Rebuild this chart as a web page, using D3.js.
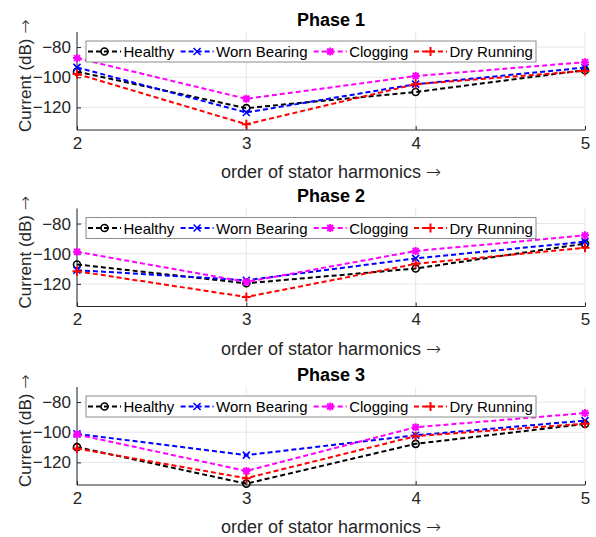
<!DOCTYPE html>
<html lang="en">
<head>
  <meta charset="UTF-8">
  <title>Stator harmonics by phase</title>
  <script src="https://d3js.org/d3.v7.min.js"></script>
  <style>
    body {
      margin: 0;
      background: #fff;
      font-family: "Liberation Sans", Arial, sans-serif;
    }
    .tick-label { font-size: 17px; fill: #262626; }
    .axis-label { font-size: 18px; fill: #262626; }
    .ylab { font-size: 17px; }
    .arrow { font-family: "DejaVu Sans", sans-serif; font-weight: 300; }
    .title { font-size: 18px; font-weight: bold; fill: #000; }
    .legend-text { font-size: 15px; fill: #000; }
  </style>
</head>
<body>
  <svg id="chart"></svg>

  <script>
    // Data
    const harmonics = [2, 3, 4, 5];
    const seriesNames = ["Healthy", "Worn Bearing", "Clogging", "Dry Running"];
    const yTicks = [-80, -100, -120];
    const phaseTitles = ["Phase 1", "Phase 2", "Phase 3"];

    const healthy1 = [-96.3, -120.5, -109.8, -95.3];
    const worn1    = [-93.5, -123.4, -104.6, -93.6];
    const clog1    = [-87.3, -114.3, -99.2, -90.0];
    const dry1     = [-97.8, -131.2, -104.6, -95.8];

    const healthy2 = [-107.1, -119.6, -109.8, -93.3];
    const worn2    = [-110.9, -117.6, -103.1, -92.0];
    const clog2    = [-98.7, -118.7, -98.2, -87.8];
    const dry2     = [-111.6, -128.7, -106.7, -96.0];

    const healthy3 = [-109.9, -134.1, -107.7, -94.5];
    const worn3    = [-101.1, -115.2, -102.0, -92.3];
    const clog3    = [-101.5, -125.7, -96.7, -87.3];
    const dry3     = [-110.8, -130.5, -102.6, -94.3];

    const phases = [
      [healthy1, worn1, clog1, dry1],
      [healthy2, worn2, clog2, dry2],
      [healthy3, worn3, clog3, dry3]
    ];

    const colors = ["#000000", "#0000ff", "#ff00ff", "#ff0000"];
    const markers = ["circle", "x", "star", "plus"];

    const W = 596, H = 537;
    const left = 77, right = 585;
    const panelTops = [32, 208.5, 387];
    const panelH = 98;

    const svg = d3.select("#chart").attr("width", W).attr("height", H);

    const x = d3.scaleLinear().domain([2, 5]).range([left, right]);

    function drawMarker(g, type, color) {
      const r = 3.5;
      if (type === "circle") {
        g.append("circle").attr("r", r).attr("fill", "none")
          .attr("stroke", color).attr("stroke-width", 1.6);
      } else if (type === "x") {
        g.append("path").attr("d", `M${-r},${-r}L${r},${r}M${-r},${r}L${r},${-r}`)
          .attr("stroke", color).attr("stroke-width", 1.6);
      } else if (type === "plus") {
        const s = 4.5;
        g.append("path").attr("d", `M${-s},0L${s},0M0,${-s}L0,${s}`)
          .attr("stroke", color).attr("stroke-width", 2);
      } else if (type === "star") {
        const s = 4;
        g.append("path")
          .attr("d", `M${-s},0L${s},0M0,${-s}L0,${s}M${-s*0.75},${-s*0.75}L${s*0.75},${s*0.75}M${-s*0.75},${s*0.75}L${s*0.75},${-s*0.75}`)
          .attr("stroke", color).attr("stroke-width", 2);
      }
    }

    phases.forEach((series, pi) => {
      const top = panelTops[pi];
      const y = d3.scaleLinear().domain([-135, -70]).range([top + panelH, top]);
      const g = svg.append("g");

      // grid
      g.selectAll(".hgrid").data(yTicks).enter().append("line")
        .attr("x1", left).attr("x2", right)
        .attr("y1", d => y(d)).attr("y2", d => y(d))
        .attr("stroke", "#e6e6e6").attr("stroke-width", 1);
      g.selectAll(".vgrid").data(harmonics).enter().append("line")
        .attr("x1", d => x(d)).attr("x2", d => x(d))
        .attr("y1", top).attr("y2", top + panelH)
        .attr("stroke", "#e6e6e6").attr("stroke-width", 1);

      // axes
      const yAxis = g.append("g").attr("transform", `translate(${left},0)`)
        .call(d3.axisLeft(y).tickValues(yTicks).tickSize(-4).tickPadding(6));
      const xAxis = g.append("g").attr("transform", `translate(0,${top + panelH})`)
        .call(d3.axisBottom(x).tickValues(harmonics).tickFormat(d3.format("d")).tickSize(-4).tickPadding(5));
      [yAxis, xAxis].forEach(a => {
        a.select(".domain").attr("stroke", "#262626").attr("stroke-width", 1);
        a.selectAll(".tick line").attr("stroke", "#262626");
        a.selectAll(".tick text").attr("class", "tick-label")
          .style("font-family", "'Liberation Sans', Arial, sans-serif").attr("font-size", null);
      });
      xAxis.selectAll(".tick text").attr("dy", null).attr("y", 18.5);
      yAxis.select(".domain").attr("d", `M0,${top}V${top + panelH}`);
      xAxis.select(".domain").attr("d", `M${left},0H${right}`);

      // lines and markers
      const line = d3.line().x((d, i) => x(harmonics[i])).y(d => y(d));
      series.forEach((vals, si) => {
        g.append("path").datum(vals)
          .attr("d", line).attr("fill", "none")
          .attr("stroke", colors[si]).attr("stroke-width", 2)
          .attr("stroke-dasharray", "5,3");
        vals.forEach((v, i) => {
          const mg = g.append("g").attr("transform", `translate(${x(harmonics[i])},${y(v)})`);
          drawMarker(mg, markers[si], colors[si]);
        });
      });

      // title
      svg.append("text").attr("class", "title")
        .attr("x", (left + right) / 2).attr("y", top - 6.5)
        .attr("text-anchor", "middle").text(phaseTitles[pi]);

      // axis labels
      const xl = svg.append("text").attr("class", "axis-label")
        .attr("x", (left + right) / 2).attr("y", top + panelH + 48)
        .attr("text-anchor", "middle");
      xl.append("tspan").text("order of stator harmonics ");
      xl.append("tspan").attr("class", "arrow").text("\u2192");

      const yl = svg.append("text").attr("class", "axis-label ylab")
        .attr("transform", `translate(31,${top + 100}) rotate(-90)`)
        .attr("text-anchor", "start");
      yl.append("tspan").text("Current (dB) ");
      yl.append("tspan").attr("class", "arrow").text("\u2192");

      // legend
      const lg = svg.append("g").attr("transform", `translate(86,${top + 9})`);
      lg.append("rect").attr("width", 450).attr("height", 21)
        .attr("fill", "#fff").attr("stroke", "#8c8c8c").attr("stroke-width", 1);
      const sampleX = [2, 94.6, 227.7, 328];
      seriesNames.forEach((name, si) => {
        const sx = sampleX[si];
        lg.append("line").attr("x1", sx).attr("x2", sx + 33)
          .attr("y1", 10.5).attr("y2", 10.5)
          .attr("stroke", colors[si]).attr("stroke-width", 2)
          .attr("stroke-dasharray", "5,3");
        const mg = lg.append("g").attr("transform", `translate(${sx + 16.5},10.5)`);
        drawMarker(mg, markers[si], colors[si]);
        lg.append("text").attr("class", "legend-text")
          .attr("x", sx + 35.5).attr("y", 16).text(name);
      });
    });
  </script>
</body>
</html>
